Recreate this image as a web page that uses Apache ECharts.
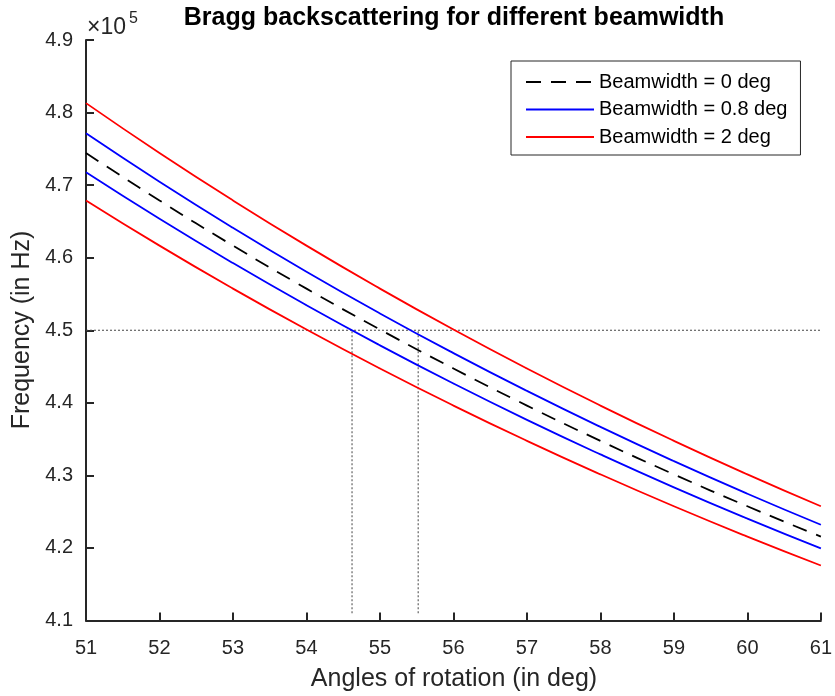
<!DOCTYPE html>
<html>
<head>
<meta charset="utf-8">
<script src="https://cdn.jsdelivr.net/npm/echarts@6/dist/echarts.min.js"></script>
<style>
html,body{margin:0;padding:0;background:#fff;}
#chart{width:835px;height:696px;}
</style>
</head>
<body>
<div id="chart"></div>
<script>
// Angles of rotation (deg)
const angles = [51, 52, 53, 54, 55, 56, 57, 58, 59, 60, 61];
// Frequency (x 1e5 Hz)
const bw0 = [4.7443, 4.6789, 4.6166, 4.5574, 4.5010, 4.4473, 4.3962, 4.3476, 4.3014, 4.2574, 4.2156];
const bw08Upper = [4.7714, 4.7047, 4.6412, 4.5807, 4.5232, 4.4685, 4.4164, 4.3668, 4.3196, 4.2747, 4.2320];
const bw08Lower = [4.7177, 4.6536, 4.5926, 4.5345, 4.4792, 4.4266, 4.3765, 4.3289, 4.2835, 4.2404, 4.1994];
const bw2Upper = [4.8130, 4.7443, 4.6789, 4.6166, 4.5574, 4.5010, 4.4473, 4.3962, 4.3476, 4.3014, 4.2574];
const bw2Lower = [4.6789, 4.6166, 4.5574, 4.5010, 4.4473, 4.3962, 4.3476, 4.3014, 4.2574, 4.2156, 4.1758];
// Reference guide lines
const refFreq = 4.5;
const refAngles = [54.62, 55.52];
const refBottom = 4.11;
const xTicks = [51, 61, 1];
const yTicks = [4.1, 4.9, 0.1];
const legendNames = ['Beamwidth = 0 deg', 'Beamwidth = 0.8 deg', 'Beamwidth = 2 deg'];

const pairs = ys => angles.map((a, i) => [a, ys[i]]);
const FONT = '"Liberation Sans", Arial, Helvetica, sans-serif';
const AX = '#262626';

const chart = echarts.init(document.getElementById('chart'), null, {renderer: 'canvas'});

function curve(name, ys, color, dashed) {
  return {
    name: name, type: 'line', data: pairs(ys), smooth: true, symbol: 'none',
    lineStyle: {color: color, width: 1.8, type: dashed ? [15, 10] : 'solid'},
    itemStyle: {color: color}, z: 3, animation: false
  };
}
function guide(data) {
  return {
    name: '_guide', type: 'line', data: data, symbol: 'none', silent: true,
    lineStyle: {color: '#444', width: 1, type: [2, 2]}, z: 2, animation: false
  };
}

const option = {
  animation: false,
  backgroundColor: '#fff',
  grid: {left: 86, right: 13, top: 40, bottom: 75.5, containLabel: false},
  xAxis: {
    type: 'value', min: xTicks[0], max: xTicks[1], interval: xTicks[2],
    axisLine: {show: true, lineStyle: {color: AX, width: 2}},
    axisTick: {show: true, inside: true, length: 8, lineStyle: {color: AX, width: 2}},
    axisLabel: {color: AX, fontFamily: FONT, fontSize: 20, margin: 18},
    splitLine: {show: false}
  },
  yAxis: {
    type: 'value', min: yTicks[0], max: yTicks[1], interval: yTicks[2],
    axisLine: {show: true, lineStyle: {color: AX, width: 2}},
    axisTick: {show: true, inside: true, length: 8, lineStyle: {color: AX, width: 2}},
    axisLabel: {color: AX, fontFamily: FONT, fontSize: 20, margin: 13, formatter: v => v.toFixed(1)},
    splitLine: {show: false}
  },
  legend: {
    data: legendNames, orient: 'vertical', left: 511, top: 61,
    padding: [11, 13, 8, 14], itemGap: 7.5, itemWidth: 68, itemHeight: 14,
    backgroundColor: '#fff', borderColor: AX, borderWidth: 1,
    itemStyle: {opacity: 0},
    textStyle: {color: '#000', fontFamily: FONT, fontSize: 20}
  },
  series: [
    guide([[xTicks[0], refFreq], [xTicks[1], refFreq]]),
    guide([[refAngles[0], refBottom], [refAngles[0], refFreq]]),
    guide([[refAngles[1], refBottom], [refAngles[1], refFreq]]),
    curve(legendNames[0], bw0, '#000000', true),
    curve(legendNames[1], bw08Upper, '#0000ff', false),
    curve(legendNames[1], bw08Lower, '#0000ff', false),
    curve(legendNames[2], bw2Upper, '#ff0000', false),
    curve(legendNames[2], bw2Lower, '#ff0000', false)
  ],
  graphic: [
    {type: 'text', x: 454, y: 18, style: {text: 'Bragg backscattering for different beamwidth', font: 'bold 25px ' + FONT, fill: '#000', textAlign: 'center', textVerticalAlign: 'middle'}},
    {type: 'text', x: 87, y: 27.5, style: {text: '×10', font: '23px ' + FONT, fill: AX, textAlign: 'left', textVerticalAlign: 'middle'}},
    {type: 'text', x: 129, y: 19, style: {text: '5', font: '16px ' + FONT, fill: AX, textAlign: 'left', textVerticalAlign: 'middle'}},
    {type: 'text', x: 454, y: 679, style: {text: 'Angles of rotation (in deg)', font: '25px ' + FONT, fill: AX, textAlign: 'center', textVerticalAlign: 'middle'}},
    {type: 'text', x: 22, y: 330, rotation: Math.PI / 2, style: {text: 'Frequency (in Hz)', font: '25px ' + FONT, fill: AX, textAlign: 'center', textVerticalAlign: 'middle'}}
  ]
};
chart.setOption(option);
</script>
</body>
</html>
